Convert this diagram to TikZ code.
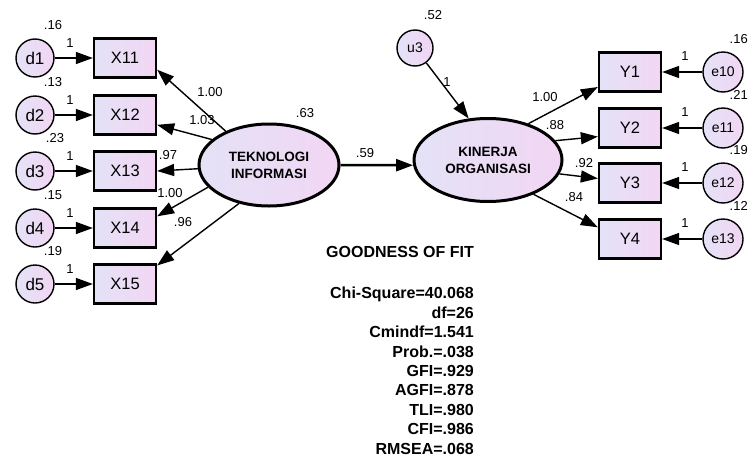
\documentclass[tikz,border=0pt]{standalone}
\usepackage{fontspec}
\setmainfont{Liberation Sans}
\usetikzlibrary{arrows.meta,shapes.geometric}
\definecolor{lavL}{RGB}{228,226,246}
\definecolor{lavR}{RGB}{242,214,244}
\begin{document}
\begin{tikzpicture}[x=1pt,y=-1pt,
  obs/.style={draw,line width=2.3pt,minimum width=62pt,minimum height=39pt,
    left color=lavL,right color=lavR,font=\fontsize{16.5}{19}\selectfont},
  errc/.style={circle,draw,line width=1.4pt,minimum size=38pt,inner sep=0pt,
    left color=lavL,right color=lavR,font=\fontsize{15}{18}\selectfont},
  latent/.style={ellipse,draw,line width=3pt,minimum width=140pt,minimum height=82pt,
    left color=lavL,right color=lavR,align=center,
    font=\fontsize{13.5}{17}\selectfont\bfseries},
  est/.style={inner sep=0pt,font=\fontsize{13}{15}\selectfont},
  reg/.style={-{Triangle[length=17pt,width=12pt]},line width=1.4pt}]
\useasboundingbox (0,0) rectangle (749,458);

% left measurement model
\node[errc,font=\fontsize{17}{20}\selectfont] (d1) at (35,58) {d1};
\node[errc,font=\fontsize{17}{20}\selectfont] (d2) at (35,115) {d2};
\node[errc,font=\fontsize{17}{20}\selectfont] (d3) at (35,171) {d3};
\node[errc,font=\fontsize{17}{20}\selectfont] (d4) at (35,228) {d4};
\node[errc,font=\fontsize{17}{20}\selectfont] (d5) at (35,284) {d5};
\node[obs] (x11) at (125,58) {X11};
\node[obs] (x12) at (125,115) {X12};
\node[obs] (x13) at (125,171) {X13};
\node[obs] (x14) at (125,228) {X14};
\node[obs] (x15) at (125,284) {X15};
\node[est] (vd1) at (53,25) {.16};
\node[est] (vd2) at (53,82) {.13};
\node[est] (vd3) at (55,138) {.23};
\node[est] (vd4) at (53,195) {.15};
\node[est] (vd5) at (53,251) {.19};
\node[est] (fd1) at (70,43) {1};
\node[est] (fd2) at (70,100) {1};
\node[est] (fd3) at (70,156) {1};
\node[est] (fd4) at (70,213) {1};
\node[est] (fd5) at (70,269) {1};
\draw[reg] (d1) -- (x11);
\draw[reg] (d2) -- (x12);
\draw[reg] (d3) -- (x13);
\draw[reg] (d4) -- (x14);
\draw[reg] (d5) -- (x15);

\node[latent] (ti) at (269,165) {TEKNOLOGI\\INFORMASI};
\node[est] (vti) at (305,113) {.63};
\draw[reg] (ti.142) -- (x11.-20);
\draw[reg] (ti.156) -- (x12.-17);
\draw[reg] (ti.183) -- (x13.east);
\draw[reg] (ti.200) -- (x14.20);
\draw[reg] (ti.232) -- (x15.30);
\node[est] (l11) at (210,92) {1.00};
\node[est] (l12) at (202,120) {1.03};
\node[est] (l13) at (168,155) {.97};
\node[est] (l14) at (170,193) {1.00};
\node[est] (l15) at (183,222) {.96};

% structural part
\node[latent,minimum width=148pt,minimum height=83pt] (ko) at (488,160) {KINERJA\\ORGANISASI};
\node[errc,minimum size=36pt,font=\fontsize{14}{17}\selectfont] (u3) at (415,48) {u3};
\node[est] (vu3) at (433,15) {.52};
\node[est] (fu3) at (447,82) {1};
\draw[reg] (u3) -- (ko.115);
\draw[reg,line width=2.5pt] (ti.east) -- (ko.184);
\node[est] (b1) at (365,153) {.59};

% right measurement model
\node[obs] (y1) at (630,72) {Y1};
\node[obs] (y2) at (630,128) {Y2};
\node[obs] (y3) at (630,183) {Y3};
\node[obs] (y4) at (630,239) {Y4};
\node[errc,minimum size=40pt,font=\fontsize{14}{17}\selectfont] (e10) at (723,72) {e10};
\node[errc,minimum size=40pt,font=\fontsize{14}{17}\selectfont] (e11) at (723,128) {e11};
\node[errc,minimum size=40pt,font=\fontsize{14}{17}\selectfont] (e12) at (723,183) {e12};
\node[errc,minimum size=40pt,font=\fontsize{14}{17}\selectfont] (e13) at (723,239) {e13};
\node[est,anchor=east] (ve10) at (748,39) {.16};
\node[est,anchor=east] (ve11) at (748,95) {.21};
\node[est,anchor=east] (ve12) at (748,150) {.19};
\node[est,anchor=east] (ve13) at (748,206) {.12};
\node[est] (fe10) at (685,56) {1};
\node[est] (fe11) at (685,112) {1};
\node[est] (fe12) at (685,167) {1};
\node[est] (fe13) at (685,223) {1};
\draw[reg] (e10) -- (y1);
\draw[reg] (e11) -- (y2);
\draw[reg] (e12) -- (y3);
\draw[reg] (e13) -- (y4);
\draw[reg] (ko.42) -- (y1.205);
\draw[reg] (ko.16) -- (y2.195);
\draw[reg] (ko.-11) -- (y3.172);
\draw[reg] (ko.-37) -- (y4.160);
\node[est] (m1) at (545,97) {1.00};
\node[est] (m2) at (555,125) {.88};
\node[est] (m3) at (584,163) {.92};
\node[est] (m4) at (574,197) {.84};

% fit indices
\node[inner sep=0pt,anchor=east,font=\fontsize{16}{19.4}\selectfont\bfseries] (fitTitle) at (474,252) {GOODNESS OF FIT};
\node[inner sep=0pt,anchor=north east,align=right,font=\fontsize{16}{19.4}\selectfont\bfseries] (fit) at (474,287)
  {Chi-Square=40.068\\df=26\\Cmindf=1.541\\Prob.=.038\\GFI=.929\\AGFI=.878\\TLI=.980\\CFI=.986\\RMSEA=.068};
\end{tikzpicture}
\end{document}
